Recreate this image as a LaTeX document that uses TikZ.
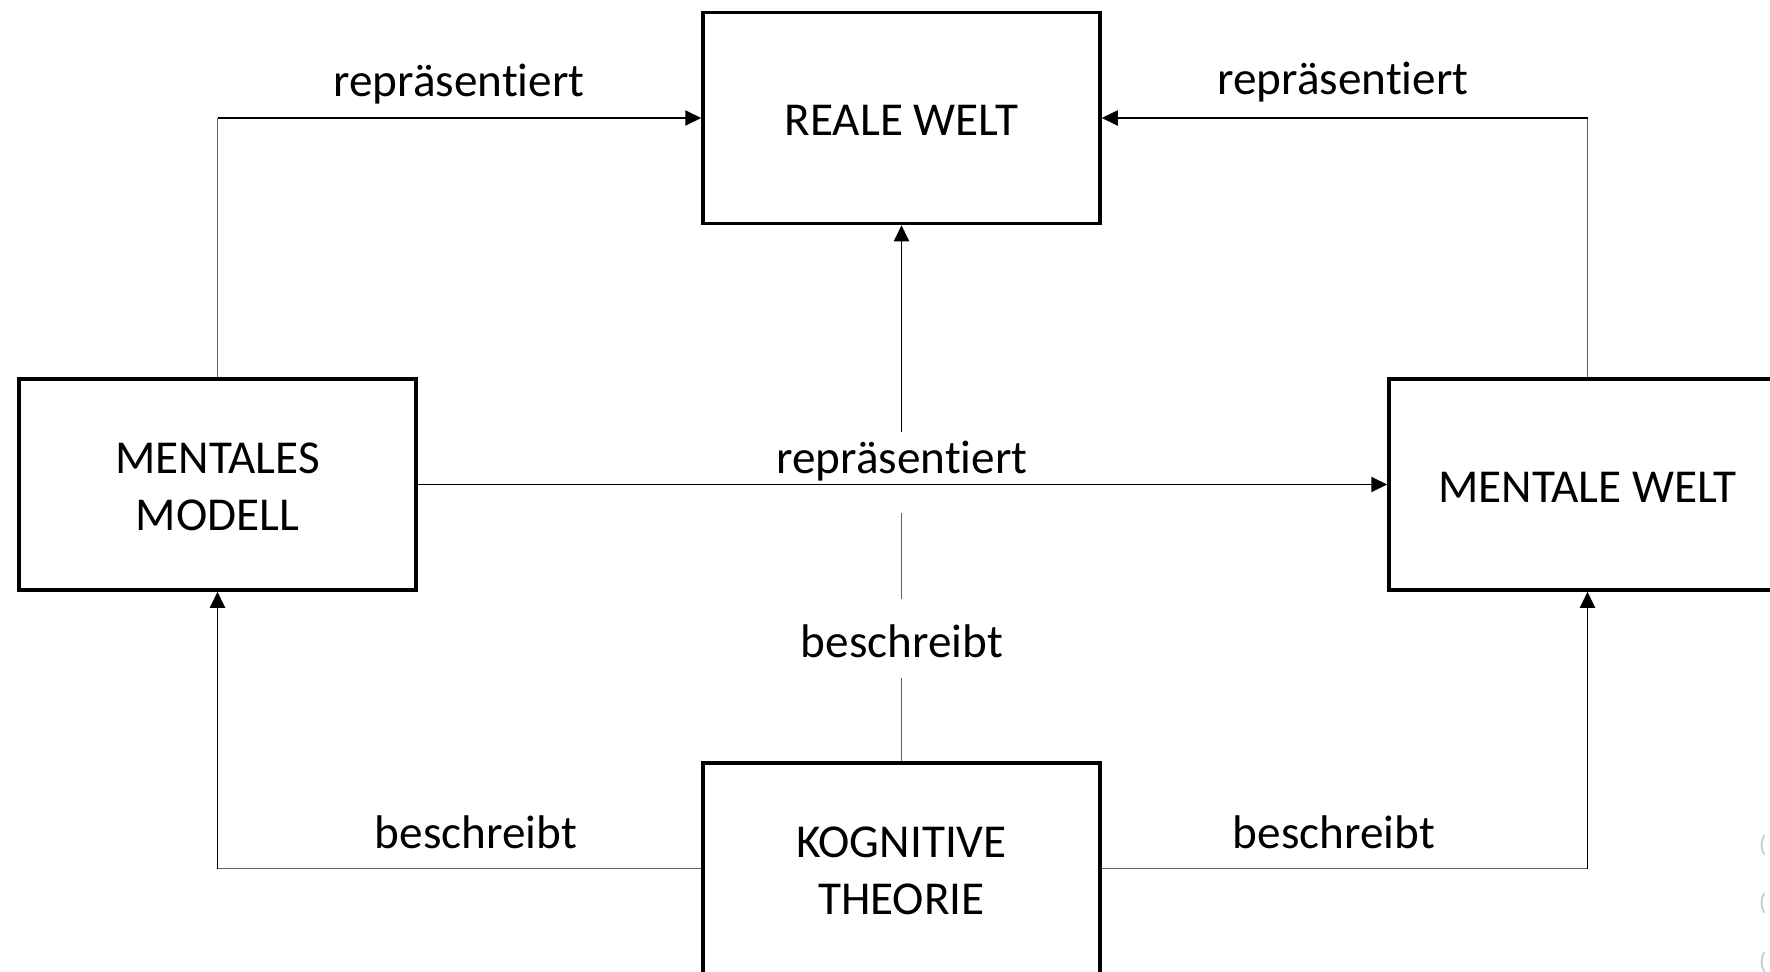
\documentclass[tikz,border=0pt]{standalone}
\usepackage{fontspec}
\setmainfont{Carlito}[Ligatures=NoCommon]
\usetikzlibrary{arrows.meta}
\newcommand\diagfont{\fontsize{47.2}{57.5}\selectfont}
\newcommand\smallgrayfont{\fontsize{24}{28}\selectfont}
\newcommand\lowertext[1]{\raisebox{-2.5pt}[\height][\depth]{#1}}
\begin{document}
\begin{tikzpicture}[x=1pt,y=-1pt,
  box/.style={draw=black, line width=3.5pt, minimum width=397pt, minimum height=211pt, align=center, inner sep=0pt, font=\diagfont},
  lbl/.style={font=\diagfont, inner sep=0pt},
  thinline/.style={draw=black!62, line width=1.3pt},
  arr/.style={draw=black, line width=1.9pt, -{Triangle[length=16pt,width=15pt]}},
  faint/.style={font=\smallgrayfont, text=black!22, inner sep=0pt, anchor=west},
]
\useasboundingbox (0,0) rectangle (1770,972);
% boxes
\node[box] (RW) at (901.5,118) {\lowertext{REALE WELT}};
\node[box] (MM) at (217.5,484.5) {\lowertext{MENTALES}\\\lowertext{MODELL}};
\node[box] (MW) at (1587.5,484.5) {\lowertext{MENTALE WELT}};
\node[box] (KT) at (901.5,868.5) {\lowertext{KOGNITIVE}\\\lowertext{THEORIE}};
% labels
\node[lbl] (l1) at (459,84) {repräsentiert};
\node[lbl] (l2) at (1343,82) {repräsentiert};
\node[lbl] (l3) at (902,461) {repräsentiert};
\node[lbl] (l4) at (902,641) {beschreibt};
\node[lbl] (l5) at (476,832) {beschreibt};
\node[lbl] (l6) at (1334,832) {beschreibt};
% corners / free ends
\coordinate (c1) at (MM.north |- RW.west);
\coordinate (c2) at (MW.north |- RW.east);
\coordinate (c3) at (MM.south |- KT.west);
\coordinate (c4) at (MW.south |- KT.east);
\coordinate (m1) at (901.5,432);
\coordinate (m2) at (901.5,513);
\coordinate (m3) at (901.5,599);
\coordinate (m4) at (901.5,678);
% top connectors
\draw[thinline] (MM.north) -- (c1);
\draw[arr] (c1) -- (RW.west);
\draw[thinline] (MW.north) -- (c2);
\draw[arr] (c2) -- (RW.east);
% middle
\draw[arr] (MM.east) -- (MW.west);
\draw[arr] (m1) -- (RW.south);
\draw[thinline] (KT.north) -- (m4);
\draw[thinline] (m3) -- (m2);
% bottom connectors
\draw[thinline] (KT.west) -- (c3);
\draw[arr] (c3) -- (MM.south);
\draw[thinline] (KT.east) -- (c4);
\draw[arr] (c4) -- (MW.south);
% faint cut-off marks at the right edge
\node[faint] (f1) at (1759,845) {(};
\node[faint] (f2) at (1759,903) {(};
\node[faint] (f3) at (1759,962) {(};
\end{tikzpicture}
\end{document}
